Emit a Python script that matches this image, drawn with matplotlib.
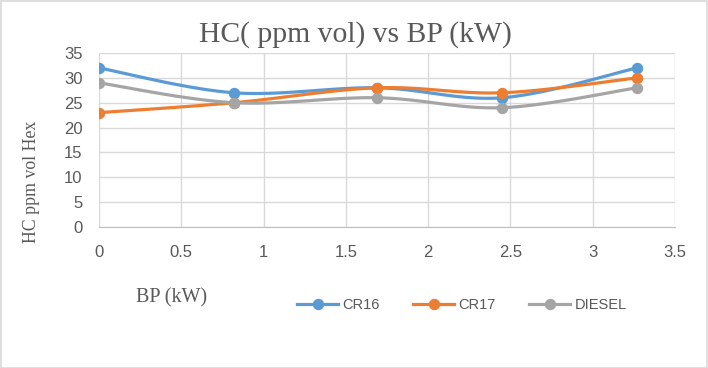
import numpy as np
import matplotlib
matplotlib.use("Agg")
import matplotlib.pyplot as plt
from matplotlib.lines import Line2D
from matplotlib.patches import Rectangle

bp = [0, 0.82, 1.69, 2.45, 3.27]
cr16 = [32, 27, 28, 26, 32]
cr17 = [23, 25, 28, 27, 30]
diesel = [29, 25, 26, 24, 28]
series_names = ["CR16", "CR17", "DIESEL"]
colors = ["#5B9BD5", "#ED7D31", "#A5A5A5"]
xticks = [0, 0.5, 1, 1.5, 2, 2.5, 3, 3.5]
yticks = [0, 5, 10, 15, 20, 25, 30, 35]

SANS = "Liberation Sans"


def smooth(x, y, n=30):
    # Excel-style smoothing (Catmull-Rom Bezier)
    x = np.asarray(x, float); y = np.asarray(y, float)
    P = np.column_stack([x, y])
    out = []
    for i in range(len(P) - 1):
        p0 = P[i - 1] if i > 0 else P[i]
        p1 = P[i]; p2 = P[i + 1]
        p3 = P[i + 2] if i + 2 < len(P) else P[i + 1]
        c1 = p1 + (p2 - p0) / 6.0
        c2 = p2 - (p3 - p1) / 6.0
        t = np.linspace(0, 1, n)[:, None]
        seg = ((1 - t) ** 3) * p1 + 3 * ((1 - t) ** 2) * t * c1 + 3 * (1 - t) * t ** 2 * c2 + t ** 3 * p2
        out.append(seg if i == 0 else seg[1:])
    s = np.vstack(out)
    return s[:, 0], s[:, 1]


W, H = 708, 368
fig = plt.figure(figsize=(W / 100, H / 100), dpi=100)
fig.patches.append(Rectangle((0.5 / W, 0.5 / H), 1 - 1.5 / W, 1 - 1.5 / H, transform=fig.transFigure,
                             fill=False, edgecolor="#D9D9D9", linewidth=1.2))
ax = fig.add_axes([99 / W, 1 - 227 / H, 576 / W, 174 / H])

for ys, c in zip([cr16, cr17, diesel], colors):
    sx, sy = smooth(bp, ys)
    ax.plot(sx, sy, color=c, lw=2.3, solid_capstyle="round", zorder=3)
    ax.plot(bp, ys, linestyle="none", marker="o", ms=7.2, color=c, zorder=4)

ax.set_xlim(0, 3.5)
ax.set_ylim(0, 35)
ax.set_xticks(xticks)
ax.set_yticks(yticks)
ax.set_xticklabels([f"{t:g}" for t in xticks])
ax.set_yticklabels([f"{t:g}" for t in yticks])
ax.grid(True, color="#D9D9D9", lw=1)
ax.set_axisbelow(True)
for s in ax.spines.values():
    s.set_visible(False)
ax.spines["bottom"].set_visible(True)
ax.spines["bottom"].set_color("#BFBFBF")
ax.tick_params(axis="y", length=0, labelsize=12, labelcolor="#595959", pad=12)
ax.tick_params(axis="x", length=0, labelsize=12, labelcolor="#595959", pad=13)
for lab in ax.get_xticklabels() + ax.get_yticklabels():
    lab.set_family(SANS)

fig.text(355 / W, 1 - 35 / H, "HC( ppm vol) vs BP (kW)", ha="center", va="center",
         family="Liberation Serif", fontsize=21.3, color="#595959")
fig.text(32 / W, 1 - 182 / H, "HC ppm vol Hex", ha="center", va="center", rotation=90,
         family="Liberation Serif", fontsize=12.8, color="#595959")
fig.text(172 / W, 1 - 298 / H, "BP (kW)", ha="center", va="center",
         family="Liberation Serif", fontsize=14.5, color="#595959")

handles = [Line2D([0], [0], color=c, lw=2.3, marker="o", ms=7.2) for c in colors]
leg = fig.legend(handles, series_names, loc="center", bbox_to_anchor=(462 / W, 1 - 305 / H), ncol=3,
                 frameon=False, prop={"family": SANS, "size": 10.5},
                 handlelength=2.8, columnspacing=2.3, handletextpad=0.3)
for t in leg.get_texts():
    t.set_color("#595959")

fig.savefig("out.png", dpi=100)
